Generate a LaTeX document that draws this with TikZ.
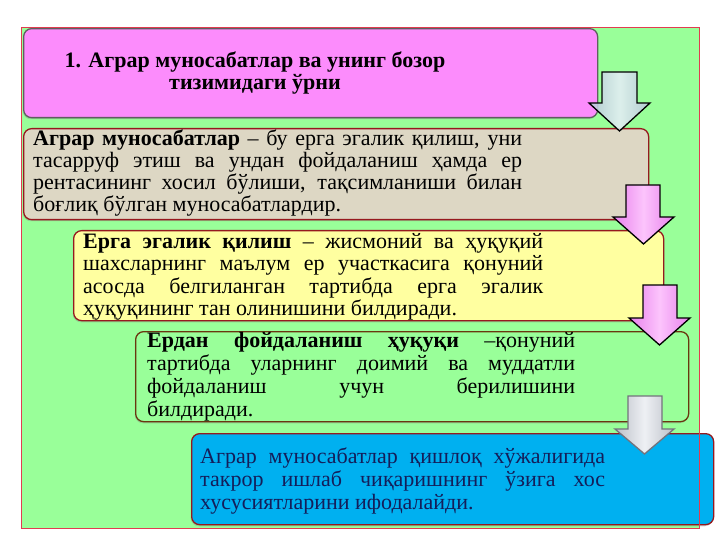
\documentclass[tikz,border=0pt]{standalone}
\usepackage{fontspec}
\setmainfont{Liberation Serif}
\usetikzlibrary{shadows}
\definecolor{bggreen}{RGB}{153,255,153}
\definecolor{framered}{RGB}{225,60,80}
\definecolor{pinkbox}{RGB}{252,140,252}
\definecolor{tanbox}{RGB}{221,215,196}
\definecolor{yellowbox}{RGB}{255,255,160}
\definecolor{bluebox}{RGB}{0,176,240}
\definecolor{darkred}{RGB}{150,25,30}
\definecolor{darkbrown}{RGB}{105,55,15}
\definecolor{greyborder}{RGB}{95,95,95}
\definecolor{navytext}{RGB}{20,30,90}
\definecolor{pinkA}{RGB}{232,128,236}
\definecolor{pinkB}{RGB}{252,196,252}
\definecolor{blueA}{RGB}{180,198,214}
\definecolor{blueB}{RGB}{228,238,244}
\definecolor{greyA}{RGB}{188,192,200}
\definecolor{greyB}{RGB}{238,240,244}
\definecolor{greyline}{RGB}{115,115,125}
\tikzset{
  panel/.style={rounded corners=8pt, line width=1.3pt, anchor=north west, inner sep=0pt,
    drop shadow={shadow xshift=-0.8pt, shadow yshift=-1.6pt, opacity=0.35}},
  bodytext/.style={anchor=base west, inner sep=0pt},
  titletext/.style={anchor=base, inner sep=0pt},
  blockarrow/.style={line width=1.3pt, line join=miter},
}
\newcommand{\jline}[1]{\makebox[\linewidth][s]{#1}}
\newcommand{\txtsize}[1]{\fontsize{22}{#1}\selectfont\lineskiplimit=-100pt\relax}
\begin{document}
\begin{tikzpicture}[x=1pt,y=-1pt]
\useasboundingbox (0,0) rectangle (720,540);
\fill[white] (0,0) rectangle (720,540);
% background frame
\node[draw=framered, fill=bggreen, line width=0.6pt, anchor=north west, inner sep=0pt,
      minimum width=678pt, minimum height=501pt] (bg) at (21,27) {};
% boxes
\node[panel, draw=greyborder, fill=pinkbox, minimum width=574pt, minimum height=89pt] (b1) at (23,28) {};
\node[panel, draw=darkred, fill=tanbox, minimum width=625pt, minimum height=91pt] (b2) at (23,128) {};
\node[panel, draw=darkred, fill=yellowbox, minimum width=590pt, minimum height=90pt] (b3) at (73,230) {};
\node[panel, draw=darkbrown, fill=bggreen, minimum width=553pt, minimum height=90pt] (b4) at (135,331) {};
\node[panel, draw=darkred, fill=bluebox, minimum width=522pt, minimum height=91pt] (b5) at (191,433) {};
% frame line visible on top
\draw[framered, line width=0.6pt] (bg.north west) rectangle (bg.south east);
% texts
\node[titletext] (t1) at (255,68) {\parbox[t]{460pt}{\centering\txtsize{22}\bfseries
  1. Аграр муносабатлар ва унинг бозор\\ тизимидаги ўрни}};
\node[bodytext] (t2) at (33,146) {\parbox[t]{489pt}{\txtsize{22}
  \jline{\textbf{Аграр муносабатлар} – бу ерга эгалик қилиш, уни}\\
  \jline{тасарруф этиш ва ундан фойдаланиш ҳамда ер}\\
  \jline{рентасининг хосил бўлиши, тақсимланиши билан}\\
  боғлиқ бўлган муносабатлардир.}};
\node[bodytext] (t3) at (83,248) {\parbox[t]{460pt}{\txtsize{22.5}
  \jline{\textbf{Ерга эгалик қилиш} – жисмоний ва ҳуқуқий}\\
  \jline{шахсларнинг маълум ер участкасига қонуний}\\
  \jline{асосда белгиланган тартибда ерга эгалик}\\
  ҳуқуқининг тан олинишини билдиради.}};
\node[bodytext] (t4) at (147,347) {\parbox[t]{428pt}{\txtsize{23}
  \jline{\textbf{Ердан фойдаланиш ҳуқуқи} –қонуний}\\
  \jline{тартибда уларнинг доимий ва муддатли}\\
  \jline{фойдаланиш учун берилишини}\\
  билдиради.}};
\node[bodytext, text=navytext] (t5) at (200,463) {\parbox[t]{405pt}{\txtsize{23}
  \jline{Аграр муносабатлар қишлоқ хўжалигида}\\
  \jline{такрор ишлаб чиқаришнинг ўзига хос}\\
  хусусиятларини ифодалайди.}};
% block arrows
\coordinate (a1) at (619.5,131);
\coordinate (a2) at (643.5,244);
\coordinate (a3) at (659.5,345);
\coordinate (a4) at (644.5,454);
\draw[blockarrow, draw=black, left color=blueA, right color=blueA, middle color=blueB, fill opacity=0.9]
  (602,72) -- (637,72) -- (637,103) -- (650,103) -- (a1) -- (589,103) -- (602,103) -- cycle;
\draw[blockarrow, draw=black, left color=pinkA, right color=pinkA, middle color=pinkB]
  (626,185) -- (660,185) -- (660,217) -- (674,217) -- (a2) -- (613,217) -- (626,217) -- cycle;
\draw[blockarrow, draw=black, left color=pinkA, right color=pinkA, middle color=pinkB]
  (643,285) -- (677,285) -- (677,318) -- (690,318) -- (a3) -- (629,318) -- (643,318) -- cycle;
\draw[blockarrow, draw=greyline, left color=greyA, right color=greyA, middle color=greyB]
  (628,396) -- (662,396) -- (662,429) -- (674,429) -- (a4) -- (615,429) -- (628,429) -- cycle;
\end{tikzpicture}
\end{document}
